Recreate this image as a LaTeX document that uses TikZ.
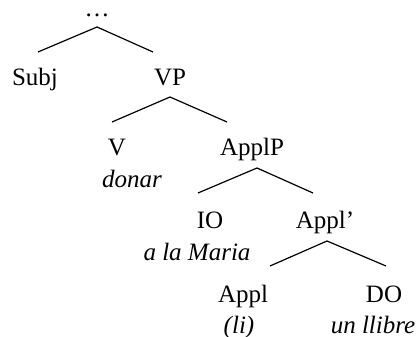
\documentclass[tikz,border=0pt]{standalone}
\usepackage{fontspec}
\setmainfont{Liberation Serif}
\begin{document}
\begin{tikzpicture}[x=1pt,y=-1pt,
  lbl/.style={anchor=base,inner sep=0pt,font=\fontsize{25}{30}\selectfont},
  ex/.style={lbl,font=\fontsize{25}{30}\selectfont\itshape},
  branch/.style={line width=1.2pt}]
\useasboundingbox (0,0) rectangle (420,337);
% labels
\node[lbl,text height=4pt,text depth=0pt] (top) at (97,17) {…};
\node[lbl] (subj) at (35,85) {Subj};
\node[lbl] (vp) at (170,85) {VP};
\node[lbl] (v) at (117,155) {V};
\node[ex] (donar) at (132,187) {donar};
\node[lbl] (applp) at (252,155) {ApplP};
\node[lbl] (io) at (210,228) {IO};
\node[ex] (maria) at (197,260) {a la Maria};
\node[lbl] (applbar) at (325,228) {Appl’};
\node[lbl] (appl) at (243,302) {Appl};
\node[ex] (li) at (239,333) {(li)};
\node[lbl] (do) at (384,302) {DO};
\node[ex] (llibre) at (373,333) {un llibre};
% branch points
\coordinate (top-a) at (97,27);
\coordinate (subj-e) at (38,52);
\coordinate (vp-e) at (153,52);
\coordinate (vp-a) at (170,97);
\coordinate (v-e) at (112,122);
\coordinate (applp-e) at (227,122);
\coordinate (applp-a) at (257,168);
\coordinate (io-e) at (198,193);
\coordinate (applbar-e) at (313,193);
\coordinate (applbar-a) at (327,241);
\coordinate (appl-e) at (270,266);
\coordinate (do-e) at (386,266);
% branches
\draw[branch] (subj-e) -- (top-a) -- (vp-e);
\draw[branch] (v-e) -- (vp-a) -- (applp-e);
\draw[branch] (io-e) -- (applp-a) -- (applbar-e);
\draw[branch] (appl-e) -- (applbar-a) -- (do-e);
\end{tikzpicture}
\end{document}
